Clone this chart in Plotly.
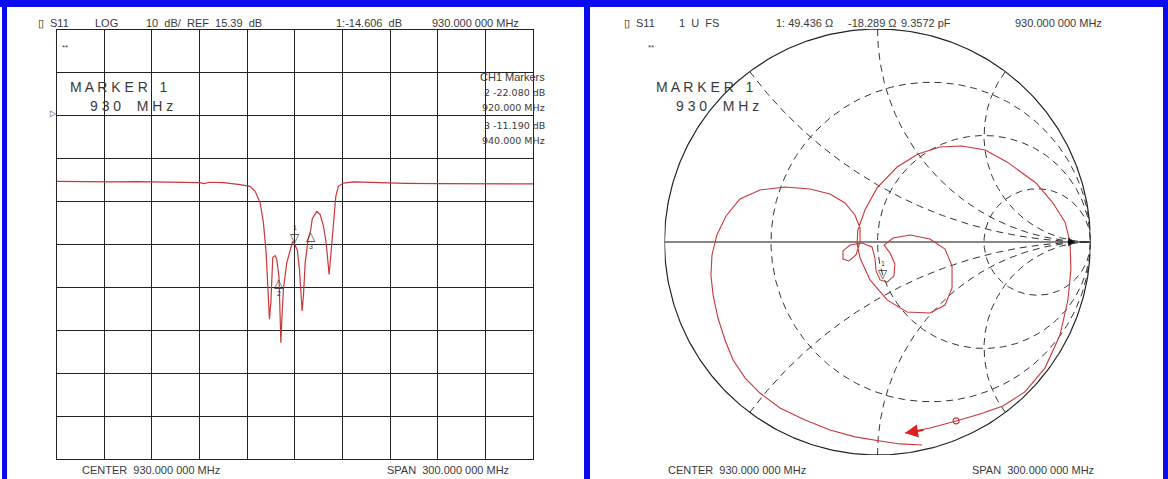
import numpy as np
import plotly.graph_objects as go

W, H = 1168, 479

# ---------------- data: left panel (S11 log magnitude) ----------------
freq_mhz = [780, 790, 800, 815, 830, 845, 860, 870, 873, 876, 885, 892, 895.5,
            901.8, 905.0, 908.1, 910.2, 911.9, 913.4, 914.0, 914.9, 915.5, 916.1,
            917.6, 918.6, 920.0, 920.4, 920.8, 921.2, 921.8, 922.8, 924.9, 927.0,
            928.6, 930.0, 931.6, 932.9, 933.9, 934.6, 935.4, 936.5, 938.3, 940.0,
            941.0, 943.8, 945.9, 948.0, 949.7, 950.8, 951.6, 952.6, 954.3, 955.8,
            957.4, 960.6, 967, 980, 1000, 1020, 1040, 1060, 1080]
s11_db = [0.1, 0.05, 0.1, 0.0, 0.05, -0.05, -0.1, -0.2, -0.4, -0.1, -0.2, -0.4, -0.66,
          -1.05, -2.2, -4.84, -9.5, -16.5, -26.6, -32.0, -28.1, -19.6, -17.6,
          -17.2, -18.1, -22.08, -28.5, -33.6, -37.5, -32.0, -25.1, -18.9, -15.8,
          -13.9, -14.606, -16.0, -20.4, -26.6, -30.1, -26.6, -18.9, -13.5, -11.19,
          -8.6, -6.9, -7.6, -10.3, -14.2, -18.9, -21.6, -17.3, -8.8, -3.4,
          -1.05, -0.3, 0.0, -0.2, -0.35, -0.4, -0.45, -0.4, -0.5]
marker_ids = ["1", "2", "3"]
marker_freq = [930.0, 920.0, 940.0]
marker_db = [-14.606, -22.080, -11.190]
list_lines = [("2 -22.080 dB", "920.000 MHz"), ("3 -11.190 dB", "940.000 MHz")]

ref_db = 15.39
db_per_div = 10
ref_div = 2          # reference line position counted from top
f_start, f_stop = 780.0, 1080.0

# ---------------- data: right panel (Smith chart) ----------------
smith_re = [0.209, 0.106, 0.012, -0.106, -0.223, -0.340, -0.458, -0.552, -0.622, -0.678,
            -0.716, -0.749, -0.772, -0.782, -0.777, -0.754, -0.711, -0.646, -0.552, -0.434,
            -0.317, -0.223, -0.153, -0.106, -0.082, -0.082, -0.101, -0.134, -0.162, -0.162,
            -0.129, -0.073, -0.026, -0.012, -0.007, 0.012, 0.045, 0.077, 0.082, 0.059,
            0.031, 0.073, 0.153, 0.246, 0.317, 0.350, 0.350, 0.317, 0.246, 0.138,
            0.045, -0.035, -0.082, -0.096, -0.092, -0.059, -0.002, 0.092, 0.190, 0.293,
            0.397, 0.505, 0.608, 0.744, 0.824, 0.880, 0.904, 0.908, 0.894, 0.857,
            0.786, 0.692, 0.589, 0.481, 0.369, 0.246, 0.129]
smith_im = [-0.953, -0.948, -0.934, -0.915, -0.883, -0.836, -0.779, -0.709, -0.638, -0.554,
            -0.460, -0.357, -0.249, -0.155, -0.061, 0.033, 0.122, 0.202, 0.244, 0.258,
            0.249, 0.225, 0.183, 0.127, 0.066, 0.000, -0.061, -0.089, -0.080, -0.042,
            -0.014, -0.005, -0.023, -0.075, -0.136, -0.178, -0.188, -0.160, -0.103, -0.052,
            -0.014, 0.019, 0.033, 0.014, -0.033, -0.113, -0.216, -0.296, -0.333, -0.329,
            -0.272, -0.178, -0.075, -0.009, 0.056, 0.150, 0.254, 0.352, 0.413, 0.446,
            0.451, 0.432, 0.376, 0.277, 0.183, 0.094, 0.000, -0.131, -0.272, -0.437,
            -0.592, -0.704, -0.770, -0.808, -0.840, -0.873, -0.897]
z0 = 50.0
marker1_r_ohm = 49.436
marker1_x_ohm = -18.289
r_circles = [1 / 3, 1, 3]
x_arcs = [0.5, 1, 2, -0.5, -1, -2]
sweep_mark_re, sweep_mark_im = 0.369, -0.840
arrow_tail = (0.223, -0.882)
ref_point = 0.905

TXT = "#3a3a3a"
FONT = "Liberation Sans"
TRACE = "#c8373a"


def px(x):
    return x / W


def py(y):
    return 1 - y / H


fig = go.Figure()

# ---------- left panel ----------
fig.add_trace(go.Scatter(x=freq_mhz, y=s11_db, mode="lines",
                         line=dict(color=TRACE, width=1.2), xaxis="x", yaxis="y",
                         hoverinfo="skip"))

y_top = ref_db + ref_div * db_per_div
y_bot = y_top - 10 * db_per_div

# ---------- right panel: Smith graticule ----------
th = np.linspace(0, 2 * np.pi, 400)
fig.add_trace(go.Scatter(x=np.cos(th), y=np.sin(th), mode="lines",
                         line=dict(color="#222", width=1.2), xaxis="x2", yaxis="y2",
                         hoverinfo="skip"))
fig.add_trace(go.Scatter(x=[-1, 1], y=[0, 0], mode="lines",
                         line=dict(color="#111", width=1.2), xaxis="x2", yaxis="y2",
                         hoverinfo="skip"))
t = np.tan(np.linspace(-np.pi / 2 + 1e-3, np.pi / 2 - 1e-3, 600))
for r in r_circles:
    g = (r + 1j * t - 1) / (r + 1j * t + 1)
    fig.add_trace(go.Scatter(x=g.real, y=g.imag, mode="lines",
                             line=dict(color="#333", width=1, dash="7px,5px"),
                             xaxis="x2", yaxis="y2", hoverinfo="skip"))
rr = np.tan(np.linspace(0, np.pi / 2 - 1e-3, 600))
for xv in x_arcs:
    g = (rr + 1j * xv - 1) / (rr + 1j * xv + 1)
    fig.add_trace(go.Scatter(x=g.real, y=g.imag, mode="lines",
                             line=dict(color="#333", width=1, dash="7px,5px"),
                             xaxis="x2", yaxis="y2", hoverinfo="skip"))

fig.add_trace(go.Scatter(x=smith_re, y=smith_im, mode="lines",
                         line=dict(color=TRACE, width=1.1), xaxis="x2", yaxis="y2",
                         hoverinfo="skip"))
fig.add_trace(go.Scatter(x=[sweep_mark_re], y=[sweep_mark_im], mode="markers",
                         marker=dict(symbol="circle-open", size=6, color=TRACE, line=dict(width=1.2)),
                         xaxis="x2", yaxis="y2", hoverinfo="skip"))
fig.add_trace(go.Scatter(x=[ref_point], y=[0], mode="markers",
                         marker=dict(symbol="triangle-right", size=8, color="#111"),
                         xaxis="x2", yaxis="y2", hoverinfo="skip"))

zm = complex(marker1_r_ohm, marker1_x_ohm) / z0
gm = (zm - 1) / (zm + 1)

ann = []


def text(x, y, s, size=11, anchor="left", color=TXT, yanchor="middle", family=FONT):
    ann.append(dict(x=px(x), y=py(y), xref="paper", yref="paper", text=s, showarrow=False,
                    xanchor=anchor, yanchor=yanchor,
                    font=dict(family=family, size=size, color=color)))


# headers
HY = 23
for off in (0, 586):
    text(36 + off, HY, "▯", size=11, color="#111")
    text(48 + off, HY, "S11", size=11)
text(93, HY, "LOG", size=11)
text(144, HY, "10  dB/  REF  15.39  dB", size=11)
text(334, HY, "1:-14.606  dB", size=11)
text(430, HY, "930.000 000 MHz", size=11)
text(677, HY, "1  U  FS", size=11)
text(774, HY, "1: 49.436 Ω", size=11)
text(846, HY, "-18.289 Ω", size=11)
text(899, HY, "9.3572 pF", size=11)
text(1013, HY, "930.000 000 MHz", size=11)

# ** marks
text(60, 47, "**", size=8)
text(646, 47, "**", size=8)

# MARKER 1 boxes
for off in (0, 586):
    text(68 + off, 87, "M A R K E R   1", size=14)
    text(88 + off, 106, "9 3 0    M H z", size=14)

# reference arrow
text(48, 113, "▷", size=8, color="#333")

# marker list
text(547, 77, "CH1 Markers", size=11, anchor="right")
for (l1, l2), yc in zip(list_lines, [99.5, 133]):
    text(547, yc, l1, size=9.5, anchor="right", yanchor="bottom", family="DejaVu Sans")
    text(547, yc, l2, size=9.5, anchor="right", yanchor="top", family="DejaVu Sans")

# bottom labels
for off in (0, 586):
    text(80 + off, 470, "CENTER  930.000 000 MHz", size=11)
text(385, 470, "SPAN  300.000 000 MHz", size=11)
text(970, 470, "SPAN  300.000 000 MHz", size=11)

# left panel marker glyphs
for mid, f, d in zip(marker_ids, marker_freq, marker_db):
    if mid == "1":
        ann.append(dict(x=f, y=d, xref="x", yref="y", text="▽", showarrow=False,
                        xanchor="center", yanchor="bottom", yshift=-3,
                        font=dict(family="DejaVu Sans", size=12, color="#333")))
        ann.append(dict(x=f, y=d, xref="x", yref="y", text=mid, showarrow=False,
                        xanchor="center", yanchor="bottom", yshift=11,
                        font=dict(family=FONT, size=7, color="#333")))
    else:
        ann.append(dict(x=f, y=d, xref="x", yref="y", text="△", showarrow=False,
                        xanchor="center", yanchor="top", yshift=3,
                        font=dict(family="DejaVu Sans", size=12, color="#333")))
        ann.append(dict(x=f, y=d, xref="x", yref="y", text=mid, showarrow=False,
                        xanchor="center", yanchor="top", yshift=-11,
                        font=dict(family=FONT, size=7, color="#333")))

# Smith marker
ann.append(dict(x=gm.real, y=gm.imag, xref="x2", yref="y2", text="▽", showarrow=False,
                xanchor="center", yanchor="bottom", yshift=-3,
                font=dict(family="DejaVu Sans", size=12, color="#333")))
ann.append(dict(x=gm.real, y=gm.imag, xref="x2", yref="y2", text="1", showarrow=False,
                xanchor="center", yanchor="bottom", yshift=11,
                font=dict(family=FONT, size=7, color="#333")))
# trace arrow near end of sweep
ann.append(dict(x=smith_re[-1], y=smith_im[-1], ax=arrow_tail[0], ay=arrow_tail[1],
                xref="x2", yref="y2", axref="x2", ayref="y2", text="", showarrow=True,
                arrowhead=2, arrowsize=1.3, arrowwidth=2, arrowcolor="#e02020"))

shapes = []
BLUE = "#0a0aee"
for x0, x1, y0, y1 in [(0, W, 0, 7), (2, 7, 0, H), (584, 590, 0, H), (1163, W, 0, H)]:
    shapes.append(dict(type="rect", xref="paper", yref="paper", x0=px(x0), x1=px(x1),
                       y0=py(y1), y1=py(y0), fillcolor=BLUE, line=dict(width=0), layer="above"))

fig.update_layout(
    width=W, height=H, margin=dict(l=0, r=0, t=0, b=0),
    paper_bgcolor="white", plot_bgcolor="rgba(0,0,0,0)", showlegend=False,
    annotations=ann, shapes=shapes,
    xaxis=dict(domain=[px(56.7), px(533)], range=[f_start, f_stop], tick0=f_start,
               dtick=(f_stop - f_start) / 10, showgrid=True, gridcolor="#222", gridwidth=1,
               showticklabels=False, ticks="", zeroline=False, showline=True, mirror=True,
               linecolor="#222", linewidth=1.2, fixedrange=True),
    yaxis=dict(domain=[py(459), py(30)], range=[y_bot, y_top], tick0=ref_db, dtick=db_per_div,
               showgrid=True, gridcolor="#222", gridwidth=1, showticklabels=False, ticks="",
               zeroline=False, showline=True, mirror=True, linecolor="#222", linewidth=1.2,
               fixedrange=True),
    xaxis2=dict(domain=[px(877.5 - 213), px(877.5 + 213)], range=[-1, 1], visible=False,
                anchor="y2"),
    yaxis2=dict(domain=[py(455), py(29)], range=[-1, 1], visible=False, anchor="x2"),
)

fig.write_html("out.html", config={"displayModeBar": False},
               post_script="document.body.style.margin='0';document.body.style.overflow='hidden';")
